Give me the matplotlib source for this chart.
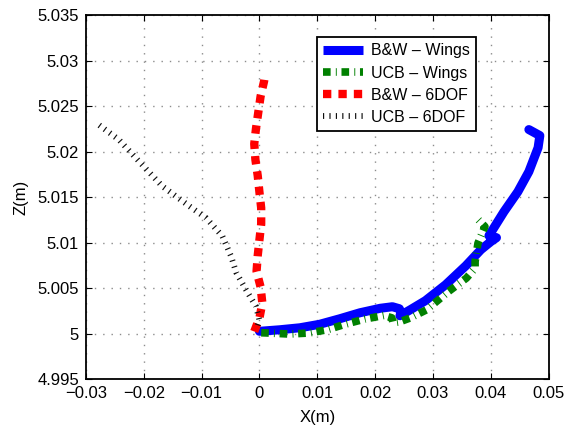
import numpy as np
import matplotlib.pyplot as plt

plt.rcParams['font.family'] = ['Liberation Sans', 'DejaVu Sans']

# B&W - Wings
bw_wings_x = [0.0, 0.0035, 0.0070, 0.0104, 0.0139, 0.0174, 0.0209, 0.0230, 0.0242, 0.0245,
              0.0243, 0.0261, 0.0287, 0.0322, 0.0357, 0.0383, 0.0400, 0.0410, 0.0397, 0.0423,
              0.0447, 0.0466, 0.0482, 0.0485, 0.0466]
bw_wings_z = [5.00027, 5.00044, 5.00066, 5.00104, 5.00165, 5.00231, 5.0028, 5.00297, 5.00275, 5.00231,
              5.00198, 5.00264, 5.00363, 5.00538, 5.00747, 5.00923, 5.01011, 5.01055, 5.01077, 5.01341,
              5.0156, 5.0178, 5.02044, 5.02176, 5.02242]

# UCB - Wings
ucb_wings_x = [0.0003, 0.0017, 0.0051, 0.0085, 0.0117, 0.0149, 0.0182, 0.0215, 0.0229, 0.0231,
               0.0243, 0.0260, 0.0289, 0.0327, 0.0358, 0.0373, 0.0373, 0.0378, 0.0390, 0.0376]
ucb_wings_z = [5.00011, 5.00008, 4.99997, 5.00008, 5.00044, 5.00106, 5.00161, 5.00201, 5.00175, 5.00121,
               5.00132, 5.00172, 5.00263, 5.00464, 5.00611, 5.0072, 5.00793, 5.00995, 5.01177, 5.01269]

# B&W - 6DOF
bw_6dof_x = [-0.0009, 0.0, 0.0005, 0.0002, -0.0005, -0.0003, 0.0, 0.0003, 0.0003, 0.0,
             -0.0003, -0.0007, -0.0009, -0.0006, -0.0002, 0.0002, 0.0008, 0.0009]
bw_6dof_z = [5.00025, 5.00173, 5.00337, 5.00513, 5.00685, 5.00857, 5.01033, 5.01205, 5.01381, 5.01553,
             5.01736, 5.01912, 5.02085, 5.02253, 5.02432, 5.02608, 5.02773, 5.0282]

# UCB - 6DOF
ucb_6dof_x = [-0.0277, -0.0243, -0.0205, -0.0168, -0.0121, -0.0092, -0.0064, -0.0049, -0.0040,
              -0.0023, -0.0006, 0.0, -0.0006]
ucb_6dof_z = [5.0229, 5.0213, 5.0187, 5.0162, 5.0140, 5.0127, 5.0107, 5.0085, 5.0067,
              5.0048, 5.0030, 5.0015, 5.0004]

labels = ['B&W \u2013 Wings', 'UCB \u2013 Wings', 'B&W \u2013 6DOF', 'UCB \u2013 6DOF']

fig = plt.figure(figsize=(5.67, 4.26), dpi=100)
ax = fig.add_axes([0.1517, 0.1096, 0.8157, 0.8552])

ax.plot(bw_wings_x, bw_wings_z, color='#0000ff', lw=6.5, solid_capstyle='round',
        solid_joinstyle='round', label=labels[0])
ax.plot(ucb_wings_x, ucb_wings_z, color='#008000', lw=5.5, dashes=(1.0, 0.68, 0.12, 0.62),
        label=labels[1])
ax.plot(bw_6dof_x, bw_6dof_z, color='#ff0000', lw=6, dashes=(1.0, 0.85), label=labels[2])
ax.plot(ucb_6dof_x, ucb_6dof_z, color='0.05', lw=4.2, dashes=(0.2, 0.9), label=labels[3])

ax.set_xlim(-0.03, 0.05)
ax.set_ylim(4.995, 5.035)
ax.set_xticks(np.arange(-0.03, 0.0501, 0.01))
ax.set_yticks(np.arange(4.995, 5.0351, 0.005))
ax.set_xticklabels(['\u22120.03', '\u22120.02', '\u22120.01', '0', '0.01', '0.02', '0.03', '0.04', '0.05'])
ax.set_yticklabels(['4.995', '5', '5.005', '5.01', '5.015', '5.02', '5.025', '5.03', '5.035'])
ax.tick_params(direction='in', top=True, right=True, length=4, width=0.8, labelsize=12, pad=5)
ax.grid(True, color='0.55', linestyle=(0, (1, 5)), linewidth=1)
for s in ax.spines.values():
    s.set_linewidth(1.3)

ax.set_xlabel('X(m)', fontsize=12, labelpad=6)
ax.set_ylabel('Z(m)', fontsize=12, labelpad=6)

leg = ax.legend(loc='upper left', bbox_to_anchor=(0.4995, 0.9396), fontsize=11.5,
                fancybox=False, framealpha=1, edgecolor='black', handlelength=2.5,
                handletextpad=0.45, labelspacing=0.45, borderpad=0.4, borderaxespad=0)
leg.get_frame().set_linewidth(1.3)
leg.get_lines()[0].set_solid_capstyle('butt')

fig.savefig('out.png', dpi=100)
